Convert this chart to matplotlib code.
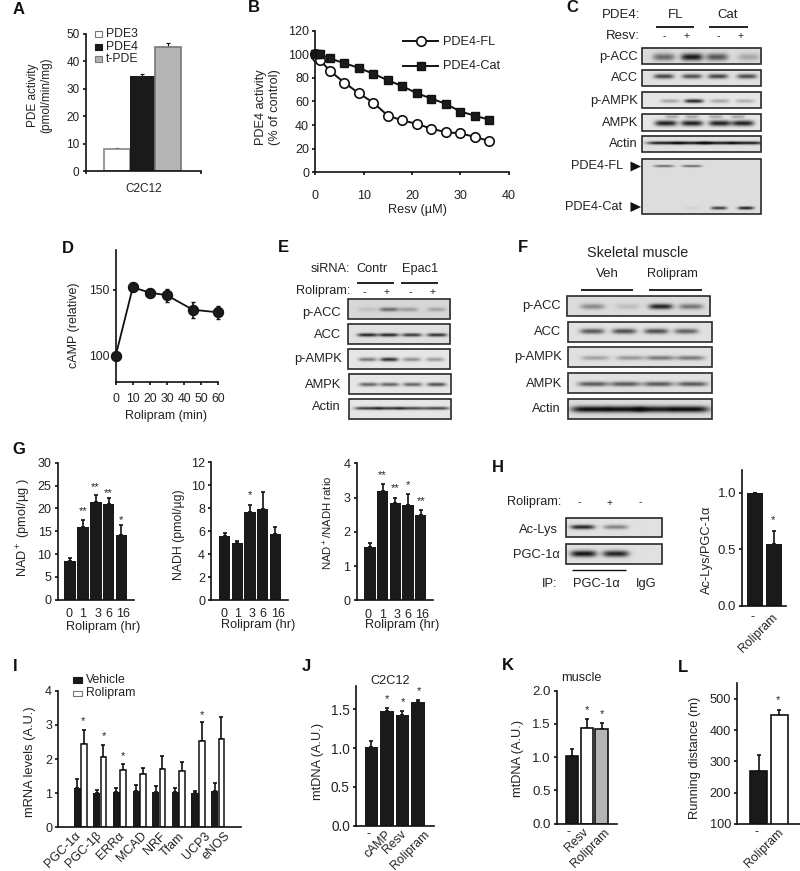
import numpy as np
import matplotlib
matplotlib.use('Agg')
import matplotlib.pyplot as plt
from matplotlib.patches import Rectangle, Polygon

plt.rcParams['font.family'] = ['Liberation Sans', 'DejaVu Sans']
plt.rcParams['mathtext.default'] = 'regular'
INK = '#222222'
BLK = '#1a1a1a'
GRY = '#b4b4b4'
plt.rcParams['text.color'] = INK
plt.rcParams['axes.labelcolor'] = INK
plt.rcParams['xtick.labelcolor'] = INK
plt.rcParams['ytick.labelcolor'] = INK

# ---------- data ----------
A_names = ['PDE3', 'PDE4', 't-PDE']
A_vals = [8.3, 34.6, 45.3]
A_errs = [0.4, 0.9, 1.2]

B_x = [0, 0.3, 1, 3, 6, 9, 12, 15, 18, 21, 24, 27, 30, 33, 36]
B_fl = [100, 98, 95, 86, 76, 67, 59, 48, 44, 41, 37, 34, 33, 30, 26.5]
B_cat = [100, 100, 100, 96.5, 92.5, 88.5, 83.5, 78, 73, 67, 62.5, 58, 51.5, 48, 44.5]

D_t = [0, 10, 20, 30, 45, 60]
D_vals = [100, 152, 148, 146, 135, 133]
D_errs = [0, 3, 3, 5, 6, 5]

G_labels = ['0', '1', '3', '6', '16']
G_nad = [8.5, 16, 21.5, 21, 14.2]
G_nad_err = [0.6, 1.4, 1.5, 1.2, 2.2]
G_nadh = [5.55, 5.0, 7.65, 7.95, 5.7]
G_nadh_err = [0.25, 0.15, 0.65, 1.45, 0.65]
G_ratio = [1.55, 3.2, 2.83, 2.77, 2.5]
G_ratio_err = [0.13, 0.2, 0.17, 0.33, 0.13]

H_names = ['-', 'Rolipram']
H_vals = [1.0, 0.55]
H_errs = [0, 0.11]

I_names = ['PGC-1α', 'PGC-1β', 'ERRα', 'MCAD', 'NRF', 'Tfam', 'UCP3', 'eNOS']
I_veh = [1.15, 1.0, 1.02, 1.07, 1.04, 1.02, 0.99, 1.07]
I_veh_err = [0.26, 0.09, 0.14, 0.18, 0.18, 0.13, 0.08, 0.23]
I_rol = [2.45, 2.05, 1.68, 1.55, 1.72, 1.65, 2.52, 2.6]
I_rol_err = [0.4, 0.37, 0.16, 0.18, 0.37, 0.27, 0.56, 0.62]

J_names = ['-', 'cAMP', 'Resv', 'Rolipram']
J_vals = [1.01, 1.48, 1.42, 1.59]
J_errs = [0.08, 0.04, 0.06, 0.03]

K_names = ['-', 'Resv', 'Rolipram']
K_vals = [1.02, 1.44, 1.42]
K_errs = [0.11, 0.13, 0.1]

L_names = ['-', 'Rolipram']
L_vals = [270, 447]
L_errs = [50, 18]

# band darkness per lane, read by eye
C_pacc = [.55, .95, .65, .25]
C_acc = [.75, .7, .75, .72]
C_pampk = [.3, .9, .3, .25]
C_ampk = [.92, .92, .92, .92]
C_ampk_up = [.3, .3, .3, .3]
C_actin = [.95, .95, .95, .95]
C_fl = [.6, .6, 0, 0]
C_cat = [0, .06, .8, .95]
E_pacc = [.12, .55, .3, .25]
E_acc = [.92, .9, .8, .85]
E_pampk = [.5, .85, .4, .35]
E_ampk = [.6, .6, .6, .7]
E_actin = [.8, .8, .75, .75]
F_pacc = [.4, .15, .9, .5]
F_acc = [.65, .7, .7, .6]
F_pampk = [.3, .35, .5, .5]
F_ampk = [.65, .65, .65, .65]
F_actin = [1, 1, .95, 1]
H_aclys = [.9, .45, 0]
H_pgc = [.97, .9, 0]

# ---------- figure ----------
W, H = 800, 871
fig = plt.figure(figsize=(W / 100, H / 100), dpi=100, facecolor='white')
ov = fig.add_axes([0, 0, 1, 1], zorder=5)
ov.set_xlim(0, W)
ov.set_ylim(H, 0)
ov.axis('off')
ov.set_autoscale_on(False)
PX = ov.transData


def T(x, y, s, ha='center', size=9.2, **kw):
    ov.text(x, y, s, ha=ha, va='center', fontsize=size, **kw)


def hline(x0, x1, y, lw=1.3):
    ov.plot([x0, x1], [y, y], color='#111111', lw=lw, solid_capstyle='butt')


def panel(x, y, s):
    T(x, y, s, ha='left', size=12, fontweight='bold', color='#111111')


def star(x, y, s='*'):
    T(x, y + 1.5, s, size=8)


def chart(x0, x1, ytop, ybot, xlim, ylim, yticks, yfmt=None, size=8.8, lw=1.2):
    ax = fig.add_axes([x0 / W, 1 - ybot / H, (x1 - x0) / W, (ybot - ytop) / H])
    ax.set_xlim(*xlim)
    ax.set_ylim(*ylim)
    ax.spines[['top', 'right']].set_visible(False)
    ax.spines[['left', 'bottom']].set_linewidth(lw)
    ax.spines[['left', 'bottom']].set_color('#111111')
    ax.set_yticks(yticks)
    if yfmt:
        ax.set_yticklabels([yfmt % v for v in yticks])
    ax.tick_params(axis='both', labelsize=size, length=2.5, width=lw, color='#111111', pad=2)
    ax.patch.set_alpha(0)
    return ax


def labels(ax, xl=None, yl=None, size=9.2):
    if xl:
        ax.set_xlabel(xl[0], fontsize=size, ha='center', va='center')
        ax.xaxis.set_label_coords(xl[1], xl[2], transform=PX)
    if yl:
        ax.set_ylabel(yl[0], fontsize=size, ha='center', va='center',
                      multialignment='center', linespacing=1.15)
        ax.yaxis.set_label_coords(yl[1], yl[2], transform=PX)


def bars(ax, x, vals, errs, width, fc=BLK, ec=None, lw=0, elw=1.2, cap=1.5):
    ax.bar(x, vals, width, color=fc, edgecolor=ec if ec else fc, linewidth=lw, zorder=2)
    ax.errorbar(x, vals, yerr=[np.zeros(len(errs)), errs], fmt='none', ecolor='#111111',
                elinewidth=elw, capsize=cap, capthick=elw, zorder=1)


def rotated(ax, pos, names, pad=1, size=8.8):
    ax.set_xticks(pos)
    ax.set_xticklabels(names, fontsize=size)
    ax.tick_params(axis='x', length=0, pad=pad)
    for lab in ax.get_xticklabels():
        if lab.get_text() == '-':
            lab.set_rotation(0)
            lab.set_ha('center')
        else:
            lab.set_rotation(45)
            lab.set_ha('right')
            lab.set_va('top')
            lab.set_rotation_mode('anchor')


def blot(x0, x1, y0, y1, layers, bg=.87):
    """layers: (darkness list, lane centres px, y px, half thickness px, half width px)"""
    xs = np.arange(x0, x1, 0.5)
    ys = np.arange(y0, y1, 0.5)
    X, Y = np.meshgrid(xs, ys)
    img = np.full(X.shape, float(bg))
    for vals, lanes, yb, th, hw in layers:
        for v, c in zip(vals, lanes):
            img -= v * (bg - 0.05) * np.exp(-((X - c) / hw) ** 4) * np.exp(-((Y - yb) / th) ** 2)
    img = np.clip(img, 0.05, 1)
    ov.imshow(img, extent=(x0, x1, y1, y0), cmap='gray', vmin=0, vmax=1,
              aspect='auto', interpolation='bilinear', zorder=1)
    ov.add_patch(Rectangle((x0, y0), x1 - x0, y1 - y0, fc='none', ec='#2a2a2a', lw=1.2, zorder=2))


# ---------- A ----------
panel(12.5, 10, 'A')
ax = chart(85.7, 201, 33.7, 171.5, (-1.21, 3.28), (0, 50), [0, 10, 20, 30, 40, 50], size=8.5)
bars(ax, [0], [A_vals[0]], [A_errs[0]], 1, fc='white', ec='#888888', lw=1.2, elw=.8, cap=1.2)
bars(ax, [1], [A_vals[1]], [A_errs[1]], 1, elw=.8, cap=1.2)
bars(ax, [2], [A_vals[2]], [A_errs[2]], 1, fc=GRY, ec='#777777', lw=1.2, elw=.8, cap=1.2)
ax.set_xticks([-1.21, 3.28])
ax.set_xticklabels(['', ''])
labels(ax, ('C2C12', 144, 188.7), ('PDE activity\n(pmol/min/mg)', 40, 95), size=8.5)
for name, fc, ec, y in zip(A_names, ['white', BLK, GRY], ['#777777', BLK, '#777777'], [34.3, 47, 59.3]):
    ov.add_patch(Rectangle((95.3, y - 3), 6.2, 6.2, fc=fc, ec=ec, lw=.8))
    T(106, y, name, ha='left', size=8.8)

# ---------- B ----------
panel(248, 8, 'B')
ax = chart(315.3, 508.7, 30.7, 172.3, (0, 40), (0, 120), [0, 20, 40, 60, 80, 100, 120], size=9)
ax.plot(B_x, B_fl, '-o', color='#111111', mfc='white', mec='#111111', mew=1.2, ms=6.8, lw=1.4, clip_on=False, zorder=3)
ax.plot(B_x, B_cat, '-s', color='#111111', mfc=BLK, mec='#111111', ms=6.2, lw=1.4, clip_on=False, zorder=4)
ax.set_xticks([0, 10, 20, 30, 40])
ax.tick_params(axis='x', pad=10)
labels(ax, ('Resv (µM)', 417, 210), ('PDE4 activity\n(% of control)', 268, 107))
ov.plot([403, 438], [41, 41], '-', color='#111111', lw=1.4)
ov.plot([421], [41], 'o', color='#111111', mfc='white', mew=1.2, ms=6.8)
ov.plot([403, 438], [65.7, 65.7], '-', color='#111111', lw=1.4)
ov.plot([421], [65.7], 's', color='#111111', mfc=BLK, ms=6)
T(443, 42, 'PDE4-FL', ha='left')
T(443, 66, 'PDE4-Cat', ha='left')

# ---------- C ----------
panel(566.5, 7, 'C')
T(640, 15, 'PDE4:', ha='right', size=9.5)
T(676, 15, 'FL', size=9.5)
T(728, 15, 'Cat', size=9.5)
hline(656, 694.3, 26.7)
hline(709, 747.7, 26.7)
T(640, 35.7, 'Resv:', ha='right', size=9.5)
for x, s in zip([664, 687, 718, 741], '-+-+'):
    T(x, 36.5, s, size=7.5)
blot(642.3, 761.3, 47.7, 64.3, [(C_pacc, [664, 692, 717, 749], 57.5, 3.6, 11)], bg=.86)
blot(642.3, 761.3, 69.7, 86.3, [(C_acc, [664, 692, 718, 747], 76.8, 2.3, 10)], bg=.88)
blot(642.3, 761.3, 91.7, 108.3, [(C_pampk, [670, 694, 720, 745], 101.5, 1.9, 9.5)], bg=.9)
blot(642.3, 761.3, 114, 130.7, [(C_ampk, [666, 692, 720, 743], 123, 2.8, 11), (C_ampk_up, [672, 692, 716, 738], 116.5, 1.6, 7)], bg=.9)
blot(642.3, 761.3, 136, 152.3, [(C_actin, [664, 692, 718, 747], 143.5, 1.5, 17)], bg=.88)
blot(642.3, 761.3, 158.7, 214.3, [(C_fl, [664, 692, 718, 747], 166.5, 1.1, 10), (C_cat, [664, 692, 719, 746], 208.5, 1.5, 8)], bg=.87)
for lab, y in zip(['p-ACC', 'ACC', 'p-AMPK', 'AMPK', 'Actin'], [57, 78, 100.7, 123, 143.7]):
    T(638, y, lab, ha='right', size=9.3)
T(623, 166, 'PDE4-FL', ha='right')
T(622, 207, 'PDE4-Cat', ha='right')
for y in [166.5, 207]:
    ov.add_patch(Polygon([(630.5, y - 5), (641, y), (630.5, y + 5)], fc='#111111', ec='none'))

# ---------- D ----------
panel(62, 248, 'D')
ax = chart(115.7, 218.3, 250, 382.3, (0, 60), (79.8, 180.4), [100, 150], size=8.8)
ax.errorbar(D_t, D_vals, yerr=D_errs, fmt='-o', color='#111111', mfc=BLK, mec='#111111', ms=7.2, lw=1.3,
            elinewidth=1.2, capsize=1.5, clip_on=False, zorder=3)
ax.set_xticks([0, 10, 20, 30, 40, 50, 60])
ax.tick_params(axis='x', pad=5)
labels(ax, ('Rolipram (min)', 166, 415.7), ('cAMP (relative)', 74, 325), size=9)

# ---------- E ----------
panel(278, 247.5, 'E')
T(350, 269.3, 'siRNA:', ha='right')
T(372.3, 269.3, 'Contr')
T(420, 269.3, 'Epac1')
hline(357.3, 394.3, 282.7)
hline(401.3, 438.3, 282.7)
T(350, 291, 'Rolipram:', ha='right')
for x, s in zip([364.3, 387, 410.7, 433], '-+-+'):
    T(x, 292, s, size=7.5)
blot(347.7, 450.3, 299.3, 319.3, [(E_pacc, [367, 388.5, 408, 436], 309.5, 2.0, 9.5)], bg=.84)
blot(347.7, 450, 324.3, 344.3, [(E_acc, [367, 388, 411, 436], 335, 1.7, 10)], bg=.88)
blot(347.7, 450, 349.3, 369, [(E_pampk, [367, 388.5, 411, 434], 359.5, 1.9, 9)], bg=.9)
blot(348.7, 450.7, 374.3, 394.3, [(E_ampk, [368, 389, 412, 436], 385, 1.8, 9.5)], bg=.9)
blot(348.7, 450.7, 398.7, 419, [(E_actin, [367, 389, 411, 436], 408.5, 1.5, 13)], bg=.9)
for lab, x, y in zip(['p-ACC', 'ACC', 'p-AMPK', 'AMPK', 'Actin'], [340.7, 340.7, 341.7, 341.7, 340.7], [312.7, 335, 359.3, 385, 407.3]):
    T(x, y, lab, ha='right', size=9.3)

# ---------- F ----------
panel(518, 247.5, 'F')
T(637.7, 253.3, 'Skeletal muscle', size=10.4)
T(607.7, 273.7, 'Veh', size=9.5)
T(672.7, 273.7, 'Rolipram', size=9.2)
hline(580.7, 632.7, 289.7)
hline(649.3, 701.7, 289.7)
blot(566.7, 710, 295.7, 315.7, [(F_pacc, [592, 627, 660, 690], 306, 2.7, 12)], bg=.86)
blot(568, 711.7, 322, 341.7, [(F_acc, [592, 624, 656, 686], 331, 2.6, 12)], bg=.88)
blot(568, 711.7, 347.3, 367, [(F_pampk, [595, 630, 660, 690], 358, 2.2, 14)], bg=.88)
blot(568, 711.7, 373.3, 393.3, [(F_ampk, [593, 625, 658, 692], 384.5, 2.2, 15)], bg=.88)
blot(568, 711.7, 399, 419, [(F_actin, [590, 624, 656, 690], 409, 3.2, 19)], bg=.86)
for lab, x, y in zip(['p-ACC', 'ACC', 'p-AMPK', 'AMPK', 'Actin'], [560.7, 560.7, 562.3, 562.3, 561], [306, 332.3, 357, 383.7, 409]):
    T(x, y, lab, ha='right', size=9.3)

# ---------- G ----------
panel(12, 449, 'G')
pos = np.arange(5)
ax = chart(57.7, 134.3, 462.7, 599.7, (-0.96, 5.01), (0, 30), [0, 5, 10, 15, 20, 25, 30], size=9)
bars(ax, pos, G_nad, G_nad_err, .91)
ax.set_xticks([-.08, 1, 2.15, 3.03, 4.13])
ax.set_xticklabels(G_labels, fontsize=9)
ax.tick_params(axis='x', length=0, pad=6)
labels(ax, ('Rolipram (hr)', 102.7, 626.7), ('NAD$^+$ (pmol/µg )', 24, 527.7), size=9.2)
for x, y, s in [(83, 510, '**'), (95.5, 486, '**'), (108, 491.5, '**'), (120.5, 519, '*')]:
    star(x, y, s)

ax = chart(211.3, 288.3, 462, 600, (-1.05, 5.02), (0, 12), [0, 2, 4, 6, 8, 10, 12], size=9)
bars(ax, pos, G_nadh, G_nadh_err, .91)
ax.set_xticks([-.05, 1.05, 2.18, 3.03, 4.24])
ax.set_xticklabels(G_labels, fontsize=9)
ax.tick_params(axis='x', length=0, pad=6)
labels(ax, ('Rolipram (hr)', 258, 624.7), None, size=9.2)
labels(ax, None, ('NADH (pmol/µg)', 179, 535), size=8.8)
star(250, 494)

ax = chart(356.7, 433.3, 463.3, 600.3, (-1.05, 5.0), (0, 4), [0, 1, 2, 3, 4], size=9)
bars(ax, pos, G_ratio, G_ratio_err, .91)
ax.set_xticks([-.16, .97, 2.13, 3.0, 4.13])
ax.set_xticklabels(G_labels, fontsize=9)
ax.tick_params(axis='x', length=0, pad=6)
labels(ax, ('Rolipram (hr)', 402.3, 625), None, size=9.2)
labels(ax, None, ('NAD$^+$/NADH ratio', 328.3, 523), size=8.2)
for x, y, s in [(382, 474, '**'), (395.5, 487, '**'), (408, 483.5, '*'), (421, 499.5, '**')]:
    star(x, y, s)

# ---------- H ----------
panel(491.5, 467.5, 'H')
T(561, 501.7, 'Rolipram:', ha='right')
for x, s in zip([579.3, 610, 640.3], '-+-'):
    T(x, 502.5, s, size=7.5)
blot(565.7, 662, 517.7, 537.3, [(H_aclys, [582, 615, 640], 527.5, 2.2, 12)], bg=.88)
blot(565.7, 662, 544, 564, [(H_pgc, [583, 615, 640], 553.5, 3.2, 13)], bg=.88)
T(558.3, 530, 'Ac-Lys', ha='right', size=9.3)
T(560, 555.3, 'PGC-1α', ha='right', size=9.3)
hline(571.7, 626, 570, lw=1.0)
T(557.3, 584, 'IP:', ha='right', size=9.3)
T(596, 584, 'PGC-1α', size=9.3)
T(645.7, 584, 'IgG', size=9.3)

ax = chart(742.3, 786, 470, 605.7, (-.79, 1.9), (0, 1.2), [0, .5, 1.0], yfmt='%.1f', size=9.5)
bars(ax, [0, 1.16], H_vals, H_errs, 1.0, cap=1.5)
rotated(ax, [-.15, 1.0], H_names, pad=4)
labels(ax, None, ('Ac-Lys/PGC-1α', 707.3, 550))
star(773.3, 519)

# ---------- I ----------
panel(13, 666.5, 'I')
gp = np.arange(8)
ax = chart(58.3, 241, 690.7, 827.3, (-1.12, 8.18), (0, 4), [0, 1, 2, 3, 4], size=9)
bars(ax, gp - .16, I_veh, I_veh_err, .36, elw=1.2, cap=1.2)
bars(ax, gp + .18, I_rol, I_rol_err, .29, fc='white', ec='#111111', lw=1.1, elw=1.2, cap=1.2)
rotated(ax, [-.27, .78, 1.92, 3.06, 4.03, 4.97, 6.29, 7.31], I_names, pad=2, size=9)
labels(ax, None, ('mRNA levels (A.U.)', 30, 761.7), size=9.3)
for x, y in [(83.3, 720), (103.7, 735), (123, 754.7), (201.7, 713.7)]:
    star(x, y)
ov.add_patch(Rectangle((72.7, 677.3), 9, 5.5, fc=BLK, ec=BLK, lw=.8))
ov.add_patch(Rectangle((72.7, 690.7), 9, 5.5, fc='white', ec='#777777', lw=.8))
T(86.3, 680.3, 'Vehicle', ha='left', size=8.8)
T(86.3, 693.3, 'Rolipram', ha='left', size=8.8)

# ---------- J ----------
panel(302, 666, 'J')
pos = np.arange(4)
ax = chart(356, 434, 686, 825.7, (-.99, 4.03), (0, 1.8), [0, .5, 1.0, 1.5], yfmt='%.1f', size=9.8)
bars(ax, pos, J_vals, J_errs, .88)
rotated(ax, [-.2, .87, 1.88, 3.38], J_names, pad=2)
T(390, 680.7, 'C2C12')
labels(ax, None, ('mtDNA (A.U.)', 318, 761.7))
for x, y in [(386.7, 697.3), (402.7, 700.7), (418.7, 690)]:
    star(x, y)

# ---------- K ----------
panel(502, 665.5, 'K')
ax = chart(556.7, 616.7, 690.7, 823.7, (-1.03, 3.02), (0, 2), [0, .5, 1.0, 1.5, 2.0], yfmt='%.1f', size=9.5)
bars(ax, [0], [K_vals[0]], [K_errs[0]], .83, ec='#111111', lw=1.2)
bars(ax, [1], [K_vals[1]], [K_errs[1]], .83, fc='white', ec='#111111', lw=1.2)
bars(ax, [2], [K_vals[2]], [K_errs[2]], .83, fc=GRY, ec='#111111', lw=1.2)
rotated(ax, [-.2, .67, 2.16], K_names, pad=2)
T(581.7, 678.3, 'muscle')
labels(ax, None, ('mtDNA (A.U.)', 518.3, 758))
for x, y in [(586.7, 708.3), (601.7, 712.7)]:
    star(x, y)

# ---------- L ----------
panel(678, 667, 'L')
ax = chart(737.3, 800, 683.3, 823.7, (-1.05, 2.0), (100, 550), [100, 200, 300, 400, 500], size=9.2)
bars(ax, [0], [L_vals[0]], [L_errs[0]], .82, ec='#111111', lw=1.2)
bars(ax, [1], [L_vals[1]], [L_errs[1]], .82, fc='white', ec='#111111', lw=1.2)
rotated(ax, [-.1, .92], L_names, pad=2)
labels(ax, None, ('Running distance (m)', 695, 758), size=9.3)
star(778.3, 699)

fig.savefig('out.png', dpi=100)
